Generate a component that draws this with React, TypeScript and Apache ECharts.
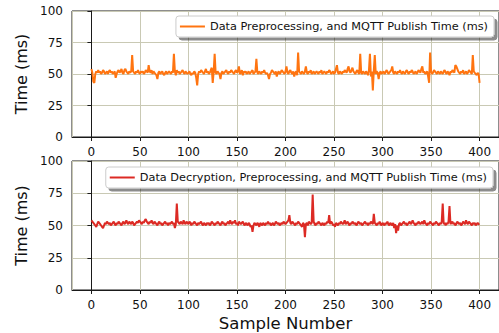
import React, { useEffect, useRef } from "react";
import * as echarts from "echarts";

const topName = "Data Preprocessing, and MQTT Publish Time (ms)";
const bottomName = "Data Decryption, Preprocessing, and MQTT Publish Time (ms)";

const preprocessTimes: number[] = [
  54, 51, 44, 43, 50, 52, 51, 53, 51, 52, 50, 51, 53, 52, 50, 51, 52, 50, 52, 53,
  51, 52, 50, 51, 52, 47, 50, 52, 53, 51, 52, 54, 51, 50, 53, 54, 52, 51, 50, 52,
  51, 52, 65, 52, 51, 50, 52, 51, 53, 51, 50, 52, 51, 52, 50, 51, 53, 52, 51, 57,
  52, 51, 53, 50, 52, 51, 50, 49, 46, 51, 52, 50, 51, 52, 50, 49, 51, 52, 50, 51,
  52, 51, 50, 52, 51, 66, 52, 49, 53, 51, 52, 50, 51, 52, 53, 51, 50, 52, 51, 50,
  51, 52, 50, 49, 51, 50, 52, 51, 47, 41, 50, 52, 51, 53, 52, 51, 50, 52, 54, 51,
  52, 50, 51, 53, 55, 43, 52, 66, 51, 50, 52, 51, 50, 46, 51, 52, 50, 51, 52, 53,
  51, 50, 52, 51, 53, 52, 51, 50, 52, 53, 51, 52, 56, 50, 51, 53, 49, 52, 51, 52,
  50, 51, 52, 50, 51, 52, 53, 50, 51, 52, 62, 51, 50, 52, 51, 50, 52, 51, 53, 51,
  50, 51, 49, 46, 50, 51, 53, 52, 51, 50, 52, 48, 51, 52, 50, 51, 53, 52, 51, 50,
  52, 56, 51, 50, 52, 53, 51, 50, 52, 48, 51, 52, 49, 67, 52, 51, 50, 52, 51, 50,
  52, 56, 51, 50, 52, 51, 53, 50, 51, 52, 50, 51, 52, 51, 50, 52, 51, 53, 50, 51,
  52, 51, 50, 52, 51, 53, 52, 50, 51, 52, 50, 51, 54, 57, 51, 50, 52, 51, 50, 52,
  51, 53, 52, 51, 54, 56, 52, 51, 53, 55, 52, 51, 50, 52, 53, 51, 50, 66, 51, 50,
  52, 51, 50, 52, 51, 49, 53, 66, 48, 52, 37, 53, 65, 50, 52, 51, 46, 51, 52, 50,
  51, 52, 50, 51, 53, 52, 50, 51, 52, 53, 56, 51, 50, 52, 51, 50, 52, 51, 53, 51,
  50, 52, 51, 50, 52, 53, 51, 50, 52, 51, 53, 52, 50, 51, 52, 50, 51, 53, 52, 51,
  54, 56, 51, 52, 50, 51, 52, 48, 43, 67, 52, 50, 51, 53, 52, 51, 50, 52, 51, 50,
  52, 51, 50, 52, 53, 51, 50, 52, 51, 49, 52, 51, 53, 52, 51, 57, 56, 54, 52, 51,
  50, 52, 51, 53, 50, 51, 52, 50, 51, 53, 52, 51, 50, 65, 52, 51, 50, 49, 51, 50,
  43,
];

const decryptTimes: number[] = [
  54, 53, 52, 51, 50, 49, 51, 53, 52, 51, 50, 49, 48, 50, 52, 51, 53, 52, 51, 52,
  50, 51, 52, 53, 51, 50, 52, 51, 53, 52, 51, 50, 52, 53, 51, 52, 54, 52, 51, 53,
  52, 51, 53, 52, 50, 51, 52, 53, 52, 54, 53, 52, 51, 53, 52, 54, 55, 53, 52, 51,
  53, 52, 54, 52, 51, 53, 52, 51, 50, 52, 53, 51, 52, 50, 51, 52, 53, 51, 52, 50,
  52, 51, 52, 53, 51, 52, 48, 51, 67, 53, 52, 51, 53, 52, 51, 54, 52, 51, 53, 52,
  51, 53, 52, 50, 52, 51, 53, 52, 51, 50, 52, 51, 52, 53, 51, 50, 52, 51, 50, 52,
  51, 52, 50, 51, 53, 52, 51, 50, 52, 51, 53, 52, 51, 50, 52, 53, 51, 52, 50, 51,
  52, 53, 51, 54, 52, 51, 53, 52, 54, 51, 52, 50, 53, 52, 51, 52, 53, 51, 50, 52,
  51, 50, 52, 51, 49, 50, 45, 50, 52, 51, 50, 52, 51, 49, 52, 51, 50, 52, 51, 50,
  52, 51, 53, 51, 52, 50, 51, 52, 50, 51, 53, 52, 51, 52, 50, 51, 52, 51, 53, 52,
  51, 52, 53, 54, 58, 52, 51, 53, 52, 51, 50, 52, 51, 53, 52, 51, 50, 49, 52, 51,
  41, 51, 52, 50, 53, 52, 51, 52, 74, 53, 51, 50, 52, 51, 53, 52, 51, 50, 52, 51,
  50, 52, 51, 53, 52, 58, 51, 53, 52, 50, 51, 49, 52, 51, 50, 52, 51, 53, 52, 51,
  52, 54, 51, 52, 53, 51, 50, 52, 51, 53, 52, 51, 52, 50, 51, 53, 52, 51, 52, 50,
  51, 52, 53, 51, 52, 50, 52, 51, 53, 52, 51, 59, 52, 51, 50, 52, 51, 53, 51, 50,
  52, 51, 50, 52, 51, 53, 51, 50, 52, 51, 50, 52, 48, 51, 44, 50, 46, 51, 52, 50,
  51, 52, 53, 51, 52, 50, 51, 52, 53, 51, 52, 54, 52, 51, 50, 52, 51, 53, 52, 51,
  52, 53, 51, 54, 52, 51, 50, 52, 51, 53, 52, 51, 50, 52, 51, 53, 52, 51, 50, 52,
  51, 53, 67, 51, 52, 50, 52, 51, 53, 65, 51, 52, 53, 51, 52, 50, 51, 53, 52, 51,
  52, 50, 51, 53, 52, 51, 54, 52, 51, 53, 52, 51, 50, 52, 51, 52, 50, 51, 52, 51,
  51,
];

const FONT = "DejaVu Sans";
const GRID_COLOR = "#c9c9b4";
const AXIS_COLOR = "#1a1a1a";

function xAxisCfg(gridIndex: number, withName: boolean) {
  return {
    type: "value",
    gridIndex,
    min: -20,
    max: 420,
    splitNumber: 9,
    name: withName ? "Sample Number" : "",
    nameLocation: "middle",
    nameGap: 25,
    nameTextStyle: { fontFamily: FONT, fontSize: 16.5, color: "#111" },
    axisLine: { show: true, onZero: false, lineStyle: { color: AXIS_COLOR, width: 1 } },
    axisTick: { show: true, length: 4, lineStyle: { color: AXIS_COLOR } },
    axisLabel: {
      showMinLabel: false,
      showMaxLabel: false,
      fontFamily: FONT,
      fontSize: 12,
      color: "#111",
      margin: 9,
    },
    splitLine: { show: true, lineStyle: { color: GRID_COLOR, width: 1 } },
  };
}

function yAxisCfg(gridIndex: number) {
  return {
    type: "value",
    gridIndex,
    min: 0,
    max: 100,
    interval: 25,
    name: "Time (ms)",
    nameLocation: "middle",
    nameGap: 43,
    nameTextStyle: { fontFamily: FONT, fontSize: 16, color: "#111" },
    axisLine: { show: true, lineStyle: { color: AXIS_COLOR, width: 1 } },
    axisTick: { show: true, length: 4, lineStyle: { color: AXIS_COLOR } },
    axisLabel: { fontFamily: FONT, fontSize: 12, color: "#111", margin: 9 },
    splitLine: { show: true, lineStyle: { color: GRID_COLOR, width: 1 } },
  };
}

function legendCfg(name: string, color: string, pos: Record<string, number>) {
  return {
    data: [{ name, icon: "rect", itemStyle: { color } }],
    ...pos,
    orient: "horizontal",
    backgroundColor: "#ffffff",
    borderColor: "#cccccc",
    borderWidth: 1,
    borderRadius: 3,
    shadowColor: "rgba(0,0,0,0.45)",
    shadowBlur: 0,
    shadowOffsetX: 3,
    shadowOffsetY: 3,
    padding: [5, 6, 5, 4],
    itemWidth: 25,
    itemHeight: 2,
    itemGap: 8,
    textStyle: { fontFamily: FONT, fontSize: 11.3, color: "#111" },
  };
}

const ORANGE = "#ff7410";
const RED = "#dc2a24";

export default function App() {
  const ref = useRef<HTMLDivElement>(null);
  useEffect(() => {
    if (!ref.current) return;
    const chart = echarts.init(ref.current, null, { renderer: "svg" });
    chart.setOption({
      animation: false,
      backgroundColor: "#ffffff",
      grid: [
        { left: 72, top: 11, width: 428, height: 126, show: true, borderColor: AXIS_COLOR, borderWidth: 1, backgroundColor: "transparent" },
        { left: 72, top: 161, width: 428, height: 129, show: true, borderColor: AXIS_COLOR, borderWidth: 1, backgroundColor: "transparent" },
      ],
      xAxis: [xAxisCfg(0, false), xAxisCfg(1, true)],
      yAxis: [yAxisCfg(0), yAxisCfg(1)],
      legend: [
        legendCfg(topName, ORANGE, { right: 5, top: 16 }),
        legendCfg(bottomName, RED, { right: 6, top: 167 }),
      ],
      series: [
        {
          name: topName,
          type: "line",
          xAxisIndex: 0,
          yAxisIndex: 0,
          data: preprocessTimes.map((v, i) => [i, v]),
          symbol: "none",
          lineStyle: { color: ORANGE, width: 2 },
          itemStyle: { color: ORANGE },
        },
        {
          name: bottomName,
          type: "line",
          xAxisIndex: 1,
          yAxisIndex: 1,
          data: decryptTimes.map((v, i) => [i, v]),
          symbol: "none",
          lineStyle: { color: RED, width: 2 },
          itemStyle: { color: RED },
        },
      ],
    });
    return () => chart.dispose();
  }, []);
  return <div ref={ref} style={{ width: 499, height: 333, position: "absolute", left: 0, top: 0 }} />;
}
